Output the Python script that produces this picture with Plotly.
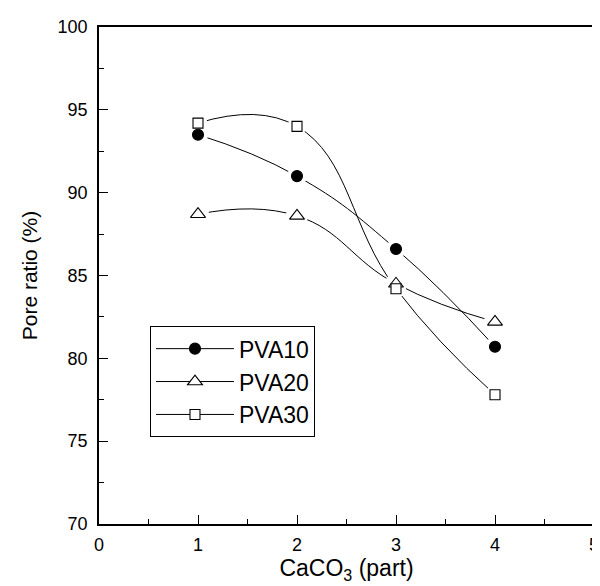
import plotly.graph_objects as go

caco3 = [1, 2, 3, 4]
pva10 = [93.5, 91.0, 86.6, 80.7]
pva20 = [88.7, 88.6, 84.5, 82.2]
pva30 = [94.2, 94.0, 84.2, 77.8]

series = [
    ("PVA10", pva10, "circle", "black", 11),
    ("PVA20", pva20, "triangle-up", "white", 13),
    ("PVA30", pva30, "square", "white", 10),
]

fig = go.Figure()

# lines with legend entries
for name, ys, sym, fill, size in series:
    fig.add_trace(go.Scatter(
        x=caco3, y=ys, name=name, mode="lines+markers",
        line=dict(color="black", width=1, shape="spline", smoothing=1.3),
        marker=dict(symbol=sym, size=size, color=fill,
                    line=dict(color="black", width=1.1)),
    ))

# white halos to leave a gap between line and marker
for name, ys, sym, fill, size in series:
    fig.add_trace(go.Scatter(
        x=caco3, y=ys, mode="markers", showlegend=False, hoverinfo="skip",
        marker=dict(symbol="circle", size=size + 9, color="white",
                    line=dict(width=0)),
    ))

# markers on top
for name, ys, sym, fill, size in series:
    fig.add_trace(go.Scatter(
        x=caco3, y=ys, mode="markers", showlegend=False,
        marker=dict(symbol=sym, size=size, color=fill,
                    line=dict(color="black", width=1.1)),
    ))

axis_common = dict(
    showline=True, linecolor="black", linewidth=1.6, mirror=True,
    ticks="inside", ticklen=9, tickwidth=1.3, tickcolor="black",
    showgrid=False, zeroline=False,
    tickfont=dict(family="Liberation Sans, Arial, sans-serif", size=18, color="black"),
)

fig.update_layout(
    width=600, height=586,
    margin=dict(l=91, r=9, t=19, b=70),
    paper_bgcolor="white", plot_bgcolor="white",
    font=dict(family="Liberation Sans, Arial, sans-serif", color="black"),
    xaxis=dict(
        range=[0, 5], dtick=1, tick0=0,
        minor=dict(dtick=0.5, ticks="inside", ticklen=5, tickcolor="black", tickwidth=1.3),
        title=dict(text="CaCO<sub>3</sub> (part)", font=dict(size=23), standoff=4),
        ticklabelstandoff=4,
        **axis_common,
    ),
    yaxis=dict(
        range=[70, 100], dtick=5, tick0=70,
        minor=dict(dtick=2.5, ticks="inside", ticklen=5, tickcolor="black", tickwidth=1.3),
        title=dict(text="Pore ratio (%)", font=dict(size=21), standoff=14),
        ticklabelstandoff=6,
        **axis_common,
    ),
    legend=dict(
        x=0.103, y=0.398, xanchor="left", yanchor="top",
        bordercolor="black", borderwidth=1, bgcolor="white",
        font=dict(size=23), tracegroupgap=0, itemwidth=78,
    ),
)

fig.write_html("out.html")
